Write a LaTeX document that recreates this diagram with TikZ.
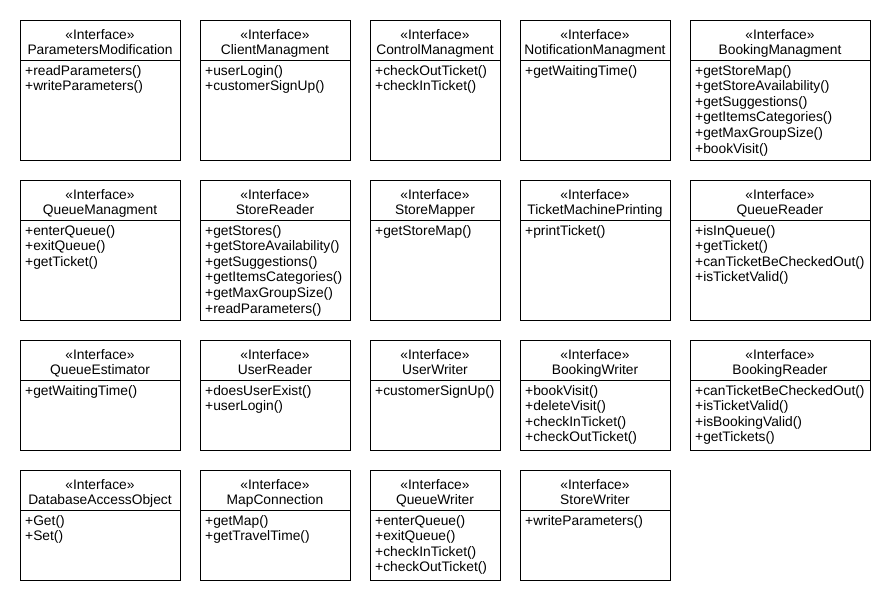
\documentclass[tikz,border=0pt]{standalone}
\usepackage{fontspec}
\setmainfont{Liberation Sans}
\usetikzlibrary{calc}

\tikzset{
  ifbox/.style={draw=black, line width=1pt, fill=white, rectangle, inner sep=0pt, outer sep=0pt},
  divider/.style={draw=black, line width=1pt},
  uml/.style={font=\fontsize{13.8}{16}\selectfont, inner sep=0pt, text=black},
  stereo/.style={uml, anchor=base},
  member/.style={uml, anchor=base west},
}

% \iface{id}{left}{top}{right}{bottom}{name}{operations}
\newcommand\iface[7]{%
  \node[ifbox, anchor=north west,
        minimum width={(#4-#2)*1pt}, minimum height={(#5-#3)*1pt}] (#1) at (#2,#3) {};
  \draw[divider] ($(#1.north west)+(0,40)$) -- ($(#1.north east)+(0,40)$);
  \node[stereo] (#1-s) at ($(#1.north)+(0,19)$) {«Interface»};
  \node[stereo] (#1-n) at ($(#1.north)+(0,34.5)$) {#6};
  \foreach \m [count=\k from 0] in {#7} {
    \node[member] (#1-m\k) at ($(#1.north west)+(5,55+15.6*\k)$) {+\m()};
  }%
}

\begin{document}
\begin{tikzpicture}[x=1pt, y=-1pt]
  \fill[white] (0,0) rectangle (890,600);
  \useasboundingbox (0,0) rectangle (890,600);

  % row 1
  \iface{pm}{20}{20}{180}{160}{ParametersModification}{readParameters, writeParameters}
  \iface{cm}{200}{20}{350}{160}{ClientManagment}{userLogin, customerSignUp}
  \iface{ctm}{370}{20}{500}{160}{ControlManagment}{checkOutTicket, checkInTicket}
  \iface{nm}{520}{20}{670}{160}{NotificationManagment}{getWaitingTime}
  \iface{bm}{690}{20}{870}{160}{BookingManagment}{getStoreMap, getStoreAvailability, getSuggestions, getItemsCategories, getMaxGroupSize, bookVisit}

  % row 2
  \iface{qm}{20}{180}{180}{320}{QueueManagment}{enterQueue, exitQueue, getTicket}
  \iface{sr}{200}{180}{350}{320}{StoreReader}{getStores, getStoreAvailability, getSuggestions, getItemsCategories, getMaxGroupSize, readParameters}
  \iface{sm}{370}{180}{500}{320}{StoreMapper}{getStoreMap}
  \iface{tmp}{520}{180}{670}{320}{TicketMachinePrinting}{printTicket}
  \iface{qr}{690}{180}{870}{320}{QueueReader}{isInQueue, getTicket, canTicketBeCheckedOut, isTicketValid}

  % row 3
  \iface{qe}{20}{340}{180}{450}{QueueEstimator}{getWaitingTime}
  \iface{ur}{200}{340}{350}{450}{UserReader}{doesUserExist, userLogin}
  \iface{uw}{370}{340}{500}{450}{UserWriter}{customerSignUp}
  \iface{bw}{520}{340}{670}{450}{BookingWriter}{bookVisit, deleteVisit, checkInTicket, checkOutTicket}
  \iface{br}{690}{340}{870}{450}{BookingReader}{canTicketBeCheckedOut, isTicketValid, isBookingValid, getTickets}

  % row 4
  \iface{dao}{20}{470}{180}{580}{DatabaseAccessObject}{Get, Set}
  \iface{mc}{200}{470}{350}{580}{MapConnection}{getMap, getTravelTime}
  \iface{qw}{370}{470}{500}{580}{QueueWriter}{enterQueue, exitQueue, checkInTicket, checkOutTicket}
  \iface{sw}{520}{470}{670}{580}{StoreWriter}{writeParameters}
\end{tikzpicture}
\end{document}
